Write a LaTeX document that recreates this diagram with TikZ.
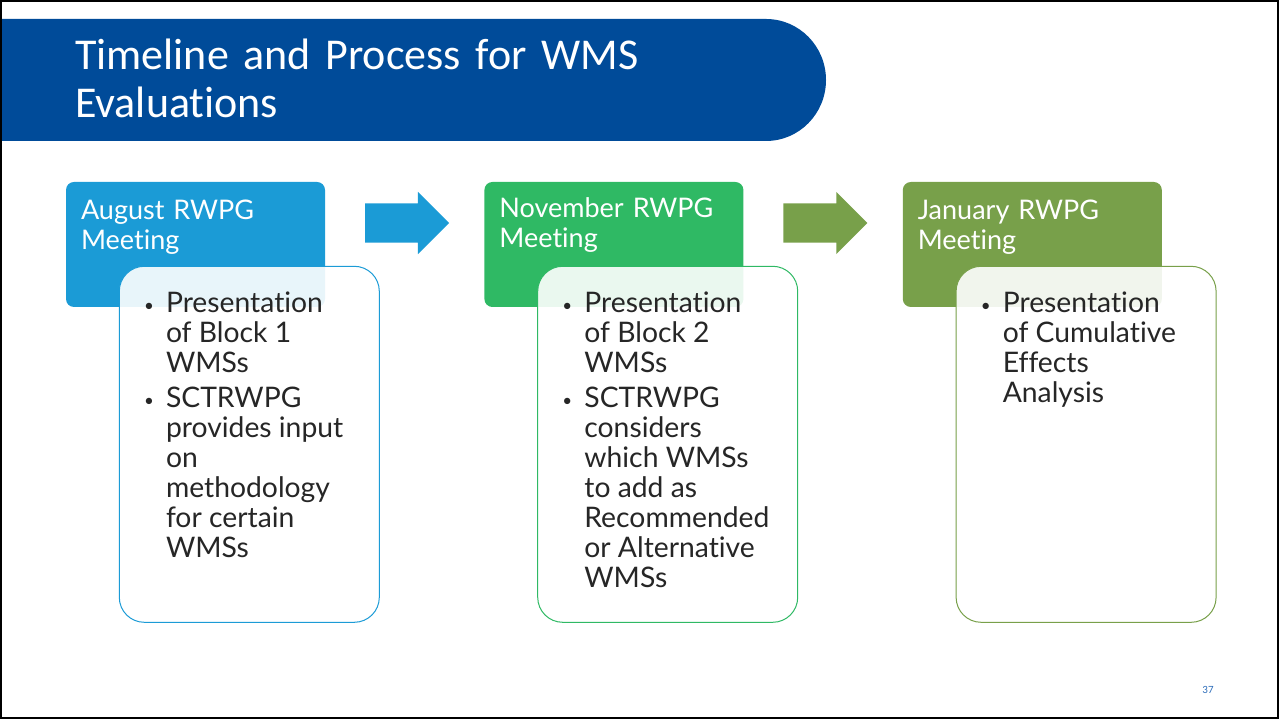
\documentclass[tikz,border=0pt]{standalone}
\usepackage{fontspec}
\setmainfont{Lato}[Ligatures=NoCommon]
\newfontfamily\titlefont{Carlito}[Ligatures=NoCommon]
\usetikzlibrary{positioning,calc,shapes.arrows}

\definecolor{bannerblue}{RGB}{0,75,153}
\definecolor{augblue}{RGB}{27,155,214}
\definecolor{novgreen}{RGB}{47,185,100}
\definecolor{janolive}{RGB}{120,160,74}
\definecolor{bodygray}{RGB}{38,38,38}
\definecolor{pageblue}{RGB}{47,110,186}

\newcommand{\smallbullet}{\raisebox{1.5pt}{\fontsize{17}{17}\selectfont\textbullet}}

\begin{document}
\begin{tikzpicture}[x=1pt, y=1pt, node distance=159pt]
		\tikzstyle{hdr}=[rectangle, rounded corners=8pt, minimum width=259pt, minimum height=125pt, inner sep=0pt]
		\tikzstyle{hdrtext}=[anchor=base west, inner sep=0pt, text width=240pt, align=left, text=white, font=\fontsize{27}{30}\selectfont]
		\tikzstyle{body}=[rectangle, rounded corners=25pt, minimum width=260pt, minimum height=356pt, inner sep=0pt, fill=white, fill opacity=0.9, line width=1pt, anchor=north west]
		\tikzstyle{bodytext}=[anchor=base west, inner sep=0pt, text=bodygray, font=\fontsize{28.3}{30}\selectfont]
		\tikzstyle{blockarrow}=[single arrow, minimum height=84pt, inner xsep=0pt, inner ysep=19.5pt, single arrow head extend=11.5pt, single arrow head indent=0pt]
		% frame and title banner
		\useasboundingbox (0,0) rectangle (1279,719);
		\draw[line width=2pt] (1,1) rectangle (1278,718);
		\fill[bannerblue] (2,578) -- (766,578) arc[start angle=-90, end angle=90, x radius=60, y radius=61] -- (2,700) -- cycle;
		\node[anchor=base west, inner sep=0pt, text width=700pt, align=left, text=white, font=\titlefont\fontsize{44}{48}\selectfont] (title) at (75,649) {Timeline and Process for WMS\\Evaluations};
		% meeting headers
		\node[hdr, fill=augblue]   (hdrA) at (195.5,474.5) {};
		\node[hdr, fill=novgreen]  (hdrB) [right = of hdrA] {};
		\node[hdr, fill=janolive]  (hdrC) [right = of hdrB] {};
		\node[hdrtext] (tA) at ($(hdrA.north west)+(15,-38)$) {August RWPG\\Meeting};
		\node[hdrtext] (tB) at ($(hdrB.north west)+(15,-36)$) {November RWPG\\Meeting};
		\node[hdrtext] (tC) at ($(hdrC.north west)+(15,-38)$) {January RWPG\\Meeting};
		% arrows between meetings
		\node[blockarrow, fill=augblue]  (arrAB) at ($($(hdrA.east)!0.5!(hdrB.west)$)+(-7.5,21.5)$) {};
		\node[blockarrow, fill=janolive] (arrBC) at ($($(hdrB.east)!0.5!(hdrC.west)$)+(-7.5,21.5)$) {};
		% bullet boxes
		\node[body, draw=augblue]  (bodyA) at ($(hdrA.north west)+(53,-84)$) {};
		\node[body, draw=novgreen] (bodyB) at ($(hdrB.north west)+(53,-84)$) {};
		\node[body, draw=janolive] (bodyC) at ($(hdrC.north west)+(53,-84)$) {};
		\node[bodytext] (bA) at ($(bodyA.north west)+(25,-47)$) {\begin{tabular}[t]{@{}p{22pt}@{}l@{}}
			\smallbullet & Presentation\\ & of Block 1\\ & WMSs\\[5pt]
			\smallbullet & SCTRWPG\\ & provides input\\ & on\\ & methodology\\ & for certain\\ & WMSs
		\end{tabular}};
		\node[bodytext] (bB) at ($(bodyB.north west)+(25,-47)$) {\begin{tabular}[t]{@{}p{22pt}@{}l@{}}
			\smallbullet & Presentation\\ & of Block 2\\ & WMSs\\[5pt]
			\smallbullet & SCTRWPG\\ & considers\\ & which WMSs\\ & to add as\\ & Recommended\\ & or Alternative\\ & WMSs
		\end{tabular}};
		\node[bodytext] (bC) at ($(bodyC.north west)+(25,-47)$) {\begin{tabular}[t]{@{}p{22pt}@{}l@{}}
			\smallbullet & Presentation\\ & of Cumulative\\ & Effects\\ & Analysis
		\end{tabular}};
		% slide number
		\node[text=pageblue, font=\titlefont\fontsize{11}{13}\selectfont] (pnum) at (1208,29) {37};
	\end{tikzpicture}
\end{document}
